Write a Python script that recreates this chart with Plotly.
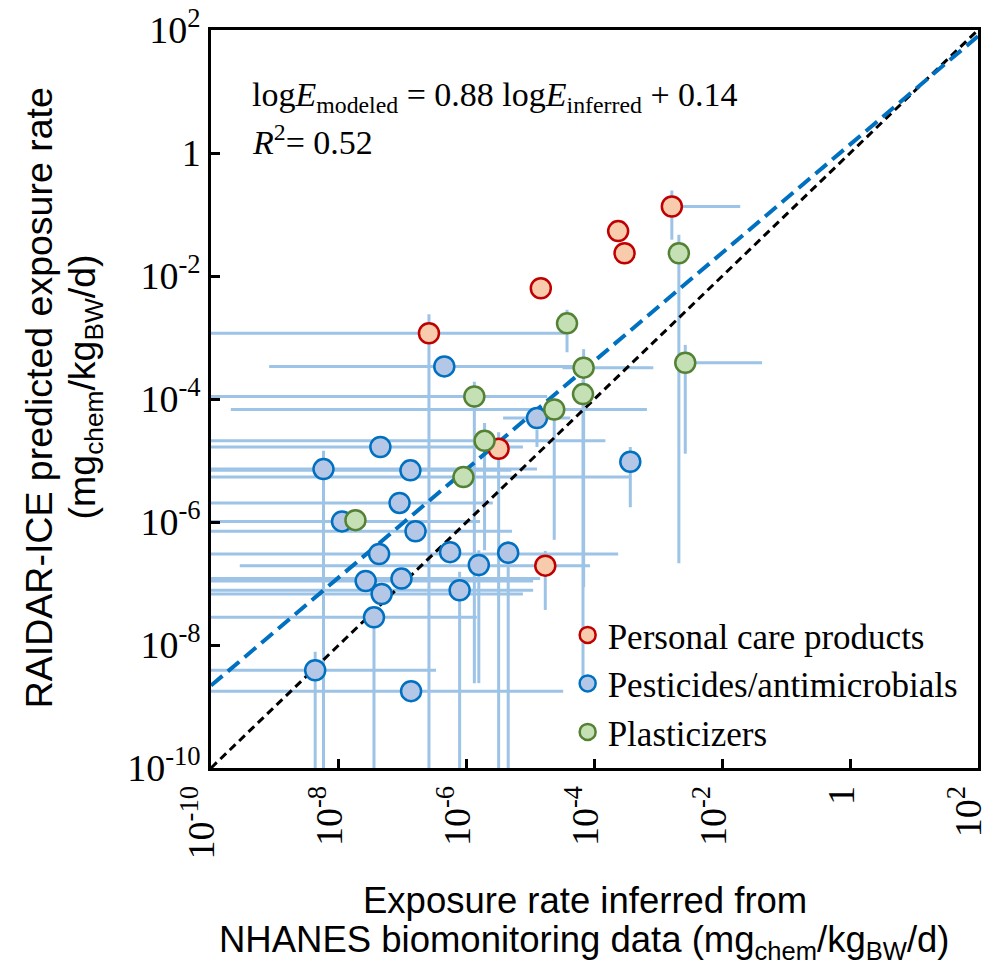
import plotly.graph_objects as go

# log10 of exposure rate (mg_chem/kg_BW/d): x = inferred from NHANES, y = RAIDAR-ICE predicted
# *_lo / *_hi give the log10 bounds of each uncertainty bar (None = no bar on that side)

# Personal care products
pcp_x = [-6.59, -4.84, -3.63, -3.53, -2.79, -5.50, -4.77]
pcp_y = [-2.93, -2.20, -1.27, -1.63, -0.87, -4.81, -6.71]
pcp_x_lo = [-11, None, None, None, None, None, -9.55]
pcp_x_hi = [-4.46, None, None, None, -1.72, None, -4.07]
pcp_y_lo = [-11, None, None, None, -1.41, -11, -7.43]
pcp_y_hi = [-2.62, None, None, None, -0.61, -4.54, -6.47]

# Pesticides / antimicrobials
pest_x = [-6.35, -4.90, -3.44, -8.24, -7.35, -6.88, -7.05, -7.95, -6.80, -7.37,
          -6.26, -5.81, -5.35, -7.58, -7.02, -7.33, -6.11, -7.45, -8.37, -6.87]
pest_y = [-3.47, -4.31, -5.02, -5.14, -4.78, -5.16, -5.69, -5.99, -6.15, -6.52,
          -6.49, -6.70, -6.50, -6.96, -6.92, -7.17, -7.11, -7.55, -8.41, -8.75]
pest_x_lo = [-9.09, -5.43, None, -11, -11, -11, -11, -11, -11, -11,
             None, None, None, -11, -11, -11, -11, -11, -11, -11]
pest_x_hi = [-4.30, -4.38, None, -4.90, -5.12, -5.30, -5.59, -5.79, -5.29, -3.63,
             None, None, None, -4.96, -4.85, -5.12, -4.96, -5.84, -6.48, -4.49]
pest_y_lo = [None, -4.78, -5.76, -11, None, None, None, None, None, None,
             None, -8.62, -11, None, None, None, -11, -11, -11, None]
pest_y_hi = [None, -4.50, -4.78, -4.84, None, None, None, None, None, None,
             None, -6.46, -6.31, None, None, None, -6.81, -7.53, -8.11, None]

# Plasticizers
plas_x = [-4.43, -2.68, -2.58, -4.17, -4.18, -4.63, -5.88, -5.72, -6.05, -7.74]
plas_y = [-2.77, -1.63, -3.41, -3.49, -3.92, -4.17, -3.96, -4.68, -5.27, -5.97]
plas_x_lo = [None, None, None, -4.5, None, -9.69, -11, -11, -11, None]
plas_x_hi = [None, None, -1.38, -3.08, None, -3.18, -4.74, -3.83, -3.44, None]
plas_y_lo = [-3.24, -6.67, -4.89, -7.06, -8.54, -6.29, -8.62, -6.46, None, None]
plas_y_hi = [-2.55, -1.33, -3.12, -3.19, -3.69, -4.21, -3.72, -4.39, None, None]

# Regression of log E_modeled on log E_inferred
fit_slope = 0.88
fit_intercept = 0.14
line_x = [-10, 2]

tick_exps = [-10, -8, -6, -4, -2, 0, 2]
tick_text = ["10<sup>-10</sup>", "10<sup>-8</sup>", "10<sup>-6</sup>", "10<sup>-4</sup>",
             "10<sup>-2</sup>", "1", "10<sup>2</sup>"]

SERIF = "Liberation Serif, Times New Roman, serif"
SANS = "Liberation Sans, Arial, sans-serif"
BAR_COLOR = "#9dc3e6"

groups = [
    ("Personal care products", pcp_x, pcp_y, pcp_x_lo, pcp_x_hi, pcp_y_lo, pcp_y_hi, "#f8cbad", "#c00000"),
    ("Pesticides/antimicrobials", pest_x, pest_y, pest_x_lo, pest_x_hi, pest_y_lo, pest_y_hi, "#b4c7e7", "#0070c0"),
    ("Plasticizers", plas_x, plas_y, plas_x_lo, plas_x_hi, plas_y_lo, plas_y_hi, "#c5e0b4", "#548235"),
]


def p10(v):
    return 10 ** v


# Uncertainty bars as line segments separated by gaps
bx, by = [], []
for _, xs, ys, xlo, xhi, ylo, yhi, _, _ in groups:
    for i in range(len(xs)):
        if xlo[i] is not None or xhi[i] is not None:
            a = xlo[i] if xlo[i] is not None else xs[i]
            b = xhi[i] if xhi[i] is not None else xs[i]
            bx += [p10(a), p10(b), None]
            by += [p10(ys[i]), p10(ys[i]), None]
        if ylo[i] is not None or yhi[i] is not None:
            a = ylo[i] if ylo[i] is not None else ys[i]
            b = yhi[i] if yhi[i] is not None else ys[i]
            bx += [p10(xs[i]), p10(xs[i]), None]
            by += [p10(a), p10(b), None]

fig = go.Figure()
fig.add_trace(go.Scatter(x=bx, y=by, mode="lines", line=dict(color=BAR_COLOR, width=3),
                         showlegend=False, hoverinfo="skip"))

# 1:1 line
fig.add_trace(go.Scatter(x=[p10(v) for v in line_x], y=[p10(v) for v in line_x], mode="lines",
                         line=dict(color="black", width=3, dash="8px,5px"),
                         showlegend=False, hoverinfo="skip"))
# fitted line
fig.add_trace(go.Scatter(x=[p10(v) for v in line_x],
                         y=[p10(fit_slope * v + fit_intercept) for v in line_x], mode="lines",
                         line=dict(color="#0070c0", width=4, dash="15px,7px"),
                         showlegend=False, hoverinfo="skip"))

for name, xs, ys, _, _, _, _, fill, edge in groups:
    fig.add_trace(go.Scatter(
        x=[p10(v) for v in xs], y=[p10(v) for v in ys], mode="markers", name=name,
        marker=dict(size=20, color=fill, line=dict(color=edge, width=2.5)),
    ))

axis_common = dict(
    type="log", range=[-10, 2], tickvals=[p10(v) for v in tick_exps], ticktext=tick_text,
    ticks="inside", ticklen=9, tickwidth=2.5, tickcolor="black",
    showline=True, linewidth=2.5, linecolor="black", mirror=True,
    showgrid=False, zeroline=False, ticklabeloverflow="allow", automargin=False,
    tickfont=dict(family=SERIF, size=38, color="black"),
)

fig.update_layout(
    width=985, height=965,
    margin=dict(l=211, r=7, t=30, b=197, autoexpand=False),
    paper_bgcolor="white", plot_bgcolor="white",
    xaxis=dict(**axis_common, tickangle=-90, ticklabelshift=-9),
    yaxis=dict(**axis_common),
    legend=dict(x=0.465, y=0.22, xanchor="left", yanchor="top",
                font=dict(family=SERIF, size=35, color="black"),
                bgcolor="rgba(0,0,0,0)", itemsizing="trace", tracegroupgap=0),
    annotations=[
        dict(text="log<i>E</i><sub>modeled</sub> = 0.88 log<i>E</i><sub>inferred</sub> + 0.14",
             xref="paper", yref="paper", x=0.051, y=0.909, xanchor="left", yanchor="middle",
             showarrow=False, font=dict(family=SERIF, size=34, color="black")),
        dict(text="<i>R</i><sup>2</sup>= 0.52",
             xref="paper", yref="paper", x=0.051, y=0.851, xanchor="left", yanchor="middle",
             showarrow=False, font=dict(family=SERIF, size=34, color="black")),
        dict(text="RAIDAR-ICE predicted exposure rate", textangle=-90,
             xref="paper", yref="paper", x=-0.2246, y=0.502, xanchor="center", yanchor="middle",
             showarrow=False, font=dict(family=SANS, size=37.5, color="black")),
        dict(text="(mg<sub>chem</sub>/kg<sub>BW</sub>/d)", textangle=-90,
             xref="paper", yref="paper", x=-0.164, y=0.516, xanchor="center", yanchor="middle",
             showarrow=False, font=dict(family=SANS, size=37.5, color="black")),
        dict(text="Exposure rate inferred from",
             xref="paper", yref="paper", x=0.487, y=-0.179, xanchor="center", yanchor="middle",
             showarrow=False, font=dict(family=SANS, size=36.5, color="black")),
        dict(text="NHANES biomonitoring data (mg<sub>chem</sub>/kg<sub>BW</sub>/d)",
             xref="paper", yref="paper", x=0.487, y=-0.236, xanchor="center", yanchor="middle",
             showarrow=False, font=dict(family=SANS, size=36.5, color="black")),
    ],
)

fig.write_html("out.html")
